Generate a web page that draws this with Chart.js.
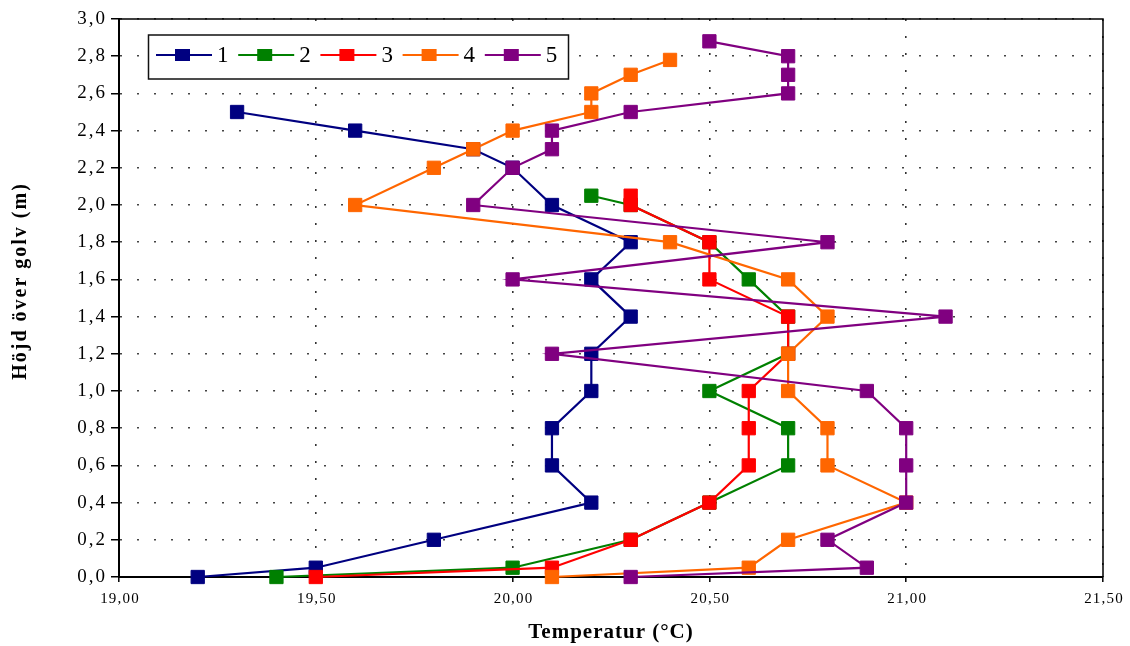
<!DOCTYPE html>
<html>
<head>
<meta charset="utf-8">
<script src="https://cdn.jsdelivr.net/npm/chart.js@4/dist/chart.umd.min.js"></script>
<style>
  html, body { margin: 0; padding: 0; background: #fff; }
  canvas { display: block; }
</style>
</head>
<body>
<canvas id="chart" width="1130" height="646"></canvas>
<script>
// Lufttemperatur per höjd, fem mätpunkter
const seriesNames = ['1', '2', '3', '4', '5'];
const seriesColors = ['#000080', '#008000', '#ff0000', '#ff6600', '#800080'];

const heights1 = [0, 0.05, 0.2, 0.4, 0.6, 0.8, 1.0, 1.2, 1.4, 1.6, 1.8, 2.0, 2.2, 2.3, 2.4, 2.5];
const temps1 = [19.2, 19.5, 19.8, 20.2, 20.1, 20.1, 20.2, 20.2, 20.3, 20.2, 20.3, 20.1, 20.0, 19.9, 19.6, 19.3];

const heights2 = [0, 0.05, 0.2, 0.4, 0.6, 0.8, 1.0, 1.2, 1.4, 1.6, 1.8, 2.0, 2.05];
const temps2 = [19.4, 20.0, 20.3, 20.5, 20.7, 20.7, 20.5, 20.7, 20.7, 20.6, 20.5, 20.3, 20.2];

const heights3 = [0, 0.05, 0.2, 0.4, 0.6, 0.8, 1.0, 1.2, 1.4, 1.6, 1.8, 2.0, 2.05];
const temps3 = [19.5, 20.1, 20.3, 20.5, 20.6, 20.6, 20.6, 20.7, 20.7, 20.5, 20.5, 20.3, 20.3];

const heights4 = [0, 0.05, 0.2, 0.4, 0.6, 0.8, 1.0, 1.2, 1.4, 1.6, 1.8, 2.0, 2.2, 2.3, 2.4, 2.5, 2.6, 2.7, 2.78];
const temps4 = [20.1, 20.6, 20.7, 21.0, 20.8, 20.8, 20.7, 20.7, 20.8, 20.7, 20.4, 19.6, 19.8, 19.9, 20.0, 20.2, 20.2, 20.3, 20.4];

const heights5 = [0, 0.05, 0.2, 0.4, 0.6, 0.8, 1.0, 1.2, 1.4, 1.6, 1.8, 2.0, 2.2, 2.3, 2.4, 2.5, 2.6, 2.7, 2.8, 2.88];
const temps5 = [20.3, 20.9, 20.8, 21.0, 21.0, 21.0, 20.9, 20.1, 21.1, 20.0, 20.8, 19.9, 20.0, 20.1, 20.1, 20.3, 20.7, 20.7, 20.7, 20.5];

const xTickLabels = ['19,00', '19,50', '20,00', '20,50', '21,00', '21,50'];
const yTickLabels = ['0,0', '0,2', '0,4', '0,6', '0,8', '1,0', '1,2', '1,4', '1,6', '1,8',
  '2,0', '2,2', '2,4', '2,6', '2,8', '3,0'];
const xTitle = 'Temperatur (°C)';
const yTitle = 'Höjd över golv (m)';

const allHeights = [heights1, heights2, heights3, heights4, heights5];
const allTemps = [temps1, temps2, temps3, temps4, temps5];

const num = s => parseFloat(s.replace(',', '.'));
const SERIF = '"Liberation Serif", "Times New Roman", serif';

const datasets = seriesNames.map((name, i) => ({
  label: name,
  data: allTemps[i].map((t, j) => ({ x: t, y: allHeights[i][j] })),
  showLine: true,
  borderColor: seriesColors[i],
  backgroundColor: seriesColors[i],
  borderWidth: 2.2,
  pointStyle: 'rect',
  pointRadius: 9.4,
  pointHoverRadius: 9.4,
  pointBorderWidth: 1,
  clip: false,
  order: seriesNames.length - 1 - i   // serie 5 överst
}));

// text, ram och teckenförklaring ritas för hand
const decorations = {
  id: 'decorations',
  afterDraw(chart) {
    const { ctx, chartArea: a, scales: { x, y } } = chart;
    ctx.save();

    // övre och högra kanten
    ctx.strokeStyle = '#000';
    ctx.lineWidth = 1.5;
    ctx.beginPath();
    ctx.moveTo(a.left, a.top);
    ctx.lineTo(a.right, a.top);
    ctx.lineTo(a.right, a.bottom);
    ctx.stroke();

    ctx.fillStyle = '#000';

    // y-axelns etiketter
    ctx.font = '19px ' + SERIF;
    ctx.letterSpacing = '2px';
    ctx.textAlign = 'right';
    ctx.textBaseline = 'middle';
    yTickLabels.forEach(l => ctx.fillText(l, a.left - 12, y.getPixelForValue(num(l))));

    // x-axelns etiketter
    ctx.font = '15px ' + SERIF;
    ctx.letterSpacing = '1.2px';
    ctx.textAlign = 'center';
    xTickLabels.forEach(l => ctx.fillText(l, x.getPixelForValue(num(l)) + 1, a.bottom + 22));

    // axeltitlar
    ctx.font = 'bold 21px ' + SERIF;
    ctx.letterSpacing = '1px';
    ctx.fillText(xTitle, (a.left + a.right) / 2, 633);

    ctx.save();
    ctx.translate(21, 281);
    ctx.rotate(-Math.PI / 2);
    ctx.font = 'bold 20px ' + SERIF;
    ctx.letterSpacing = '2px';
    ctx.fillText(yTitle, 0, 0);
    ctx.restore();

    // teckenförklaring
    const box = { left: 148.5, top: 35, width: 420, height: 44 };
    ctx.fillStyle = '#fff';
    ctx.fillRect(box.left, box.top, box.width, box.height);
    ctx.strokeStyle = '#111';
    ctx.lineWidth = 1.5;
    ctx.strokeRect(box.left, box.top, box.width, box.height);

    const cy = box.top + 20;
    ctx.font = '23px ' + SERIF;
    ctx.letterSpacing = '0px';
    ctx.textAlign = 'left';
    chart.data.datasets.forEach((ds, i) => {
      const x0 = 156 + i * 82.2;
      ctx.strokeStyle = ds.borderColor;
      ctx.lineWidth = 2.2;
      ctx.beginPath();
      ctx.moveTo(x0, cy);
      ctx.lineTo(x0 + 56, cy);
      ctx.stroke();
      ctx.fillStyle = ds.backgroundColor;
      ctx.fillRect(x0 + 19, cy - 6, 15, 12);
      ctx.fillStyle = '#000';
      ctx.fillText(ds.label, x0 + 61, cy + 1);
    });

    ctx.restore();
  }
};

new Chart(document.getElementById('chart'), {
  type: 'scatter',
  data: { datasets },
  options: {
    responsive: false,
    animation: false,
    events: [],
    layout: { padding: { left: 0, right: 27, top: 19, bottom: 0 } },
    plugins: { legend: { display: false }, tooltip: { enabled: false } },
    scales: {
      x: {
        type: 'linear',
        min: 19,
        max: 21.5,
        ticks: { stepSize: 0.5, display: false },
        grid: {
          color: '#333',
          lineWidth: 1.6,
          tickLength: 5,
          tickColor: '#000',
          tickWidth: 1.5,
          tickBorderDash: []
        },
        border: { color: '#000', width: 2, dash: [2, 15] },
        afterFit: s => { s.height = 69; }
      },
      y: {
        type: 'linear',
        min: 0,
        max: 3,
        ticks: { stepSize: 0.2, display: false },
        grid: {
          color: '#444',
          lineWidth: 1.5,
          tickLength: 8,
          tickColor: '#000',
          tickWidth: 1.5,
          tickBorderDash: []
        },
        border: { color: '#000', width: 2, dash: [2, 15] },
        afterFit: s => { s.width = 119; }
      }
    }
  },
  plugins: [decorations]
});
</script>
</body>
</html>
